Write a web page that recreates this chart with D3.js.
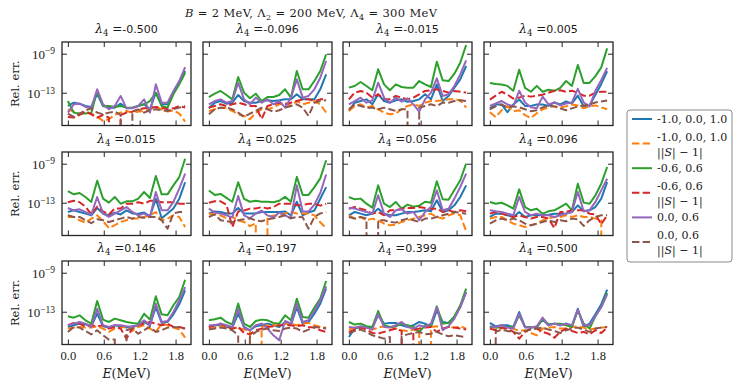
<!DOCTYPE html>
<html>
<head>
<meta charset="utf-8">
<script src="https://cdn.jsdelivr.net/npm/d3@7"></script>
<style>
body { margin: 0; background: #fff; }
</style>
</head>
<body>
<div id="chart"></div>
<script>
// energy grid (MeV)
var energies = [0.0, 0.098, 0.196, 0.294, 0.392, 0.49, 0.588, 0.686, 0.784, 0.882, 0.98,
                1.078, 1.176, 1.274, 1.372, 1.47, 1.568, 1.666, 1.764, 1.862, 1.96];
var lambda4 = ["-0.500", "-0.096", "-0.015", "0.005", "0.015", "0.025",
               "0.056", "0.096", "0.146", "0.197", "0.399", "0.500"];
var seriesNames = ["-1.0, 0.0, 1.0", "-1.0, 0.0, 1.0", "-0.6, 0.6", "-0.6, 0.6", "0.0, 0.6", "0.0, 0.6"];
var seriesIsS = [false, true, false, true, false, true];   // dashed ||S|-1| curves
var seriesColors = ["#1f77b4", "#ff7f0e", "#2ca02c", "#d62728", "#9467bd", "#8c564b"];
var xTicks = [0, 0.6, 1.2, 1.8];
var yTickExp = [-13, -9];

// log10(rel. err.); order: blue, orange, green, red, purple, brown
// null = exactly zero (drops off the log axis)
var errM0500 = [
 [-14.36,-14.02,-14.12,-14.36,-14.46,-13.10,-14.36,-14.53,-14.53,-14.12,-14.60,-14.53,-14.36,-14.19,-14.70,-13.00,-14.19,-14.19,-13.00,-11.97,-10.77],
 [-14.70,-14.94,-15.21,-14.94,-15.14,-15.48,-15.89,-15.72,-15.28,-15.04,-14.87,-15.04,-14.94,-14.87,-14.70,-14.46,-14.70,-14.94,-14.80,-15.14,-15.96],
 [-13.85,-15.04,-15.14,-15.14,-15.04,-12.82,-14.36,-14.36,-14.46,-14.36,-14.53,-14.53,-14.36,-14.19,-13.85,-13.00,-14.36,-14.53,-13.16,-12.14,-10.95],
 [-15.48,-15.55,-15.28,-14.94,-15.21,-15.55,-15.28,-15.55,null,-15.28,-15.04,-14.94,-14.70,-14.60,-14.53,-14.46,-14.53,-14.70,-14.60,-14.36,-14.53],
 [-15.04,-14.19,-14.12,-14.46,-14.53,-12.65,-14.19,-14.70,-14.36,-13.33,-14.60,-14.60,-14.36,-13.68,-15.04,-12.14,-14.02,-14.02,-12.82,-11.80,-10.37],
 [-15.14,-15.48,-15.14,-14.80,-14.60,-15.04,-15.21,-15.04,-14.94,-15.28,null,-14.94,-14.70,-15.04,-14.80,-14.70,-14.80,-14.87,-14.70,-14.53,-14.36]
];
var errM0096 = [
 [-14.60,-14.02,-13.85,-14.12,-14.02,-13.23,-13.85,-14.02,-14.02,-13.85,-13.78,-13.85,-13.78,-13.68,-13.68,-13.16,-13.68,-13.68,-13.68,-12.65,-11.12],
 [-14.87,-14.70,-14.53,-14.60,-14.87,-15.21,-15.38,-15.72,-15.04,-14.70,-14.70,-14.53,-14.19,-14.02,-14.36,-13.85,-14.19,-14.02,-13.85,-14.19,-15.04],
 [-13.44,-13.10,-12.82,-13.23,-13.68,-11.39,-12.99,-13.57,-13.10,-13.85,-13.44,-13.44,-13.23,-12.65,-13.50,-10.77,-12.65,-12.65,-11.80,-10.77,-9.07],
 [-14.53,-14.36,-14.19,-14.36,-14.19,-14.02,-14.19,-14.36,-14.36,-15.70,-14.36,-14.19,-14.02,-14.19,-14.02,-13.85,-13.68,-13.68,-13.85,-13.68,-13.68],
 [-14.19,-13.85,-13.68,-14.02,-13.85,-11.97,-13.68,-14.19,-13.50,-14.02,-13.68,-14.19,-13.85,-14.53,-13.50,-11.63,-13.50,-13.33,-12.65,-11.46,-9.75],
 [-15.21,-14.70,-14.53,-14.53,-14.70,-15.04,-15.48,-15.14,-14.87,-14.53,-14.70,-14.94,-14.80,-14.53,-14.36,-14.19,-14.53,-15.38,-14.02,-13.85,-13.78]
];
var errM0015 = [
 [-14.87,-14.02,-13.85,-13.68,-14.19,-13.16,-13.85,-14.02,-13.78,-13.68,-13.92,-13.85,-13.68,-13.16,-13.68,-12.14,-13.85,-13.33,-12.48,-11.63,-10.26],
 [-14.87,-14.36,-14.19,-14.53,-14.36,-14.70,-15.04,-15.21,-15.14,-14.70,-14.36,-14.19,-14.36,-14.02,-13.85,-13.85,-13.78,-13.68,-13.68,-13.78,-14.53],
 [-12.48,-12.31,-11.90,-12.31,-12.75,-10.60,-12.14,-12.75,-12.14,-12.41,-12.48,-12.48,-11.80,-12.14,-12.41,-9.82,-11.73,-11.80,-11.05,-9.92,-8.11],
 [-13.68,-12.99,-12.82,-12.99,-13.50,-13.16,-13.68,-13.68,-13.33,-13.50,-13.68,-13.50,-13.16,-12.82,-12.75,-12.65,-12.82,-12.99,-12.82,-12.89,-12.99],
 [-14.19,-13.85,-13.51,-14.02,-13.78,-11.97,-13.51,-14.02,-13.51,-13.92,-13.58,-14.19,-14.94,-13.68,-12.99,-11.53,-13.33,-13.16,-12.31,-11.12,-9.68],
 [-14.70,-14.19,-14.36,-14.53,-14.53,-14.70,-14.53,-14.70,-14.87,-14.70,-14.70,null,-14.53,-14.36,-14.19,-14.36,-14.02,-14.02,-13.85,-13.78,-13.85]
];
var errP0005 = [
 [-14.60,-14.20,-14.20,-15.00,-14.20,-13.70,-14.35,-14.35,-14.20,-14.20,-14.35,-14.00,-14.20,-13.90,-14.10,-13.30,-14.40,-14.30,-13.20,-12.10,-10.80],
 [-15.00,-15.50,-14.80,-14.40,-14.90,-14.80,-15.30,-15.60,-15.10,-14.70,-14.50,-14.40,-14.50,-14.40,-14.20,-14.30,-14.60,-14.40,-14.30,-14.50,-14.70],
 [-12.00,-12.10,-12.15,-12.30,-12.80,-10.65,-12.50,-12.90,-12.30,-12.90,-12.70,-12.80,-12.50,-11.80,-12.30,-10.15,-12.00,-12.00,-11.30,-10.40,-8.45],
 [-13.70,-13.30,-12.90,-13.20,-13.60,-13.50,-13.30,-13.40,-13.30,-13.20,-13.00,-12.80,-12.75,-12.90,-12.80,-13.00,-13.30,-13.30,-13.00,-12.90,-12.90],
 [-14.35,-14.10,-13.85,-14.20,-14.40,-12.80,-14.00,-14.50,-14.60,-13.40,-14.20,-14.00,-14.30,-14.10,-14.00,-12.60,-14.00,-14.40,-12.80,-11.70,-10.45],
 [-14.70,-14.40,-14.20,-14.50,-14.40,-14.50,-14.70,-14.90,-14.80,-14.50,-14.30,-14.40,-14.60,-14.80,-14.60,-14.40,-14.30,-14.20,-14.00,-13.90,-13.80]
];
var errP0015 = [
 [-13.95,-13.78,-13.95,-14.12,-14.29,-13.54,-14.12,-14.29,-14.02,-14.20,-13.78,-14.10,-14.12,-14.00,-14.40,-12.60,-14.60,-14.10,-13.60,-12.60,-10.90],
 [-14.46,-14.46,-14.80,-15.04,-14.63,-14.29,-14.90,-15.60,-15.30,-14.97,-14.80,-14.63,-14.63,-14.46,-14.30,-13.95,-14.80,-14.63,-14.29,-14.46,-15.50],
 [-11.80,-12.14,-12.00,-12.41,-12.92,-10.74,-12.58,-12.99,-12.41,-13.10,-12.86,-12.86,-12.58,-11.90,-12.51,-10.26,-12.14,-12.14,-11.22,-10.37,-8.49],
 [-12.95,-12.80,-12.95,-13.40,-14.20,-13.40,-13.90,-14.20,-13.60,-13.60,-13.10,-13.10,-12.95,-13.10,-12.80,-12.80,-12.95,-12.95,-12.95,-13.10,-13.10],
 [-13.54,-13.78,-13.68,-13.95,-14.22,-12.41,-14.12,-14.46,-14.12,-13.78,-13.44,-13.95,-14.29,-14.12,-14.46,-11.90,-13.78,-13.78,-12.92,-11.56,-10.02],
 [-14.29,-14.46,-14.46,-14.80,-15.10,-14.70,-14.80,-14.97,-14.80,-14.63,-14.46,-14.63,-14.46,-14.55,-14.46,-14.46,-14.80,-15.66,-14.10,-13.95,-13.95]
];
var errP0025 = [
 [-14.10,-13.90,-13.95,-14.10,-14.10,-13.55,-14.10,-14.10,-14.10,-13.95,-13.95,-13.95,-13.95,-13.90,-14.30,-12.90,-14.30,-14.00,-13.80,-12.60,-11.40],
 [-14.10,-14.20,-14.30,-14.60,-14.45,-14.80,-14.97,-15.40,-15.10,null,-14.50,-14.30,-14.30,-14.10,-13.95,-14.10,-14.10,-14.10,-14.30,-15.00,-15.60],
 [-11.75,-12.20,-12.10,-12.50,-12.90,-10.90,-12.60,-12.90,-12.80,-12.90,-12.90,-12.95,-12.80,-12.40,-12.90,-10.35,-12.20,-12.20,-11.40,-10.50,-8.65],
 [-13.00,-12.85,-12.85,-13.20,-15.50,-13.90,-13.80,-13.60,-13.60,-13.45,-13.60,-13.45,-13.10,-13.10,-13.10,-13.25,-13.25,-13.10,-13.10,-13.30,-13.10],
 [-13.60,-14.00,-14.10,-14.30,-14.50,-12.30,-14.30,-14.60,-14.10,-13.80,-14.30,-14.50,-14.00,-14.30,-14.60,-11.20,-13.90,-13.90,-13.20,-12.00,-10.10],
 [-14.46,-14.20,-14.80,-14.90,-15.00,-14.80,-14.70,-14.60,-14.80,-14.90,-14.70,-14.60,-14.46,-14.30,-14.60,-14.46,-14.50,-15.66,-14.46,-14.10,-13.95]
];
var errP0056 = [
 [-14.29,-13.95,-14.12,-14.29,-14.12,-13.61,-14.12,-14.29,-14.29,-14.12,-13.95,-13.95,-13.88,-13.78,-13.88,-12.75,-13.95,-13.78,-13.27,-12.41,-11.22],
 [-14.29,-14.63,-14.46,-14.80,-14.63,-14.80,-15.14,-15.31,-15.24,-14.97,-14.80,-14.63,-14.46,-14.29,-14.12,-14.46,-14.63,-14.29,-14.12,-14.29,-15.90],
 [-12.41,-12.65,-12.58,-13.10,-13.50,-11.22,-13.10,-13.44,-12.92,-13.60,-13.20,-13.40,-13.30,-12.90,-13.00,-10.80,-12.65,-12.70,-11.70,-10.70,-9.00],
 [-13.61,-13.44,-13.61,-13.78,-14.12,-13.95,-14.29,-13.78,-13.78,-13.61,-13.54,-13.54,-13.44,-13.54,-13.61,-13.61,-13.95,-13.78,-13.95,-13.78,-13.88],
 [-13.54,-13.60,-13.78,-13.95,-14.12,-12.24,-14.12,-14.46,-13.78,-13.68,-14.12,-13.95,-14.80,-13.95,-13.44,-11.73,-13.78,-13.61,-12.58,-11.39,-10.02],
 [-14.46,-14.63,-14.46,-14.63,null,-14.80,-14.80,-14.97,-15.04,-14.80,-14.63,-14.80,-14.97,-14.63,-14.63,-14.46,-14.29,-14.12,-13.95,-14.02,-14.12]
];
var errP0096 = [
 [-14.46,-14.12,-14.12,-14.29,-14.46,-13.95,-14.46,-14.29,-14.29,-14.29,-14.22,-14.12,-14.12,-14.12,-13.95,-13.27,-13.88,-13.78,-13.44,-12.58,-10.88],
 [-14.63,-14.46,-14.46,-14.80,-15.14,-15.31,-15.48,-15.31,-15.14,-14.80,-14.63,-14.46,-14.46,-14.29,-14.46,-14.29,-14.46,-14.46,-14.63,-14.80,null],
 [-12.92,-13.10,-13.00,-13.27,-13.61,-11.63,-13.44,-13.78,-13.61,-14.12,-13.88,-13.78,-13.44,-13.10,-13.78,-11.05,-12.99,-13.10,-12.24,-11.05,-9.34],
 [-14.12,-13.95,-14.12,-14.29,-14.46,-14.29,-14.46,-14.63,-14.46,-14.46,-14.63,-15.60,-13.95,-13.95,-13.78,-13.78,-13.78,-14.12,-14.20,-15.20,-14.29],
 [-13.78,-13.88,-13.95,-14.12,-14.29,-12.41,-13.95,-14.29,-14.12,-14.29,-14.29,-14.46,-14.29,-14.12,-13.95,-11.90,-13.88,-13.78,-12.92,-11.73,-10.54],
 [-15.14,-14.80,-14.63,-14.80,-14.63,-14.80,-15.14,-15.31,-15.14,-14.97,-14.80,-14.97,-14.80,-14.90,-14.63,-14.70,-15.38,-14.80,-14.46,-14.29,-14.29]
];
var errP0146 = [
 [-14.56,-14.39,-14.22,-14.29,-14.49,-13.20,-14.49,-14.63,-14.39,-14.49,-14.63,-14.49,-14.39,-14.05,-14.39,-12.52,-14.15,-14.05,-13.27,-12.24,-10.81],
 [-14.73,-14.63,-14.56,-14.63,-14.63,-14.49,-14.73,-15.07,-14.73,-14.63,-14.56,-14.97,-14.56,-14.39,-14.73,-15.07,-14.22,-14.39,-14.63,-14.83,-15.66],
 [-13.47,-13.61,-13.37,-13.88,-14.22,-11.90,-13.81,-14.05,-13.71,-13.88,-14.05,-14.15,-14.22,-13.20,-13.81,-11.42,-13.27,-13.37,-12.34,-11.49,-9.72],
 [-14.39,-14.15,-14.22,-14.56,-14.39,-14.49,-14.39,-14.73,-14.56,-14.73,-15.76,-14.73,-14.39,-14.22,-14.05,-14.22,-14.39,-14.22,-14.56,-14.56,-14.73],
 [-14.39,-14.22,-14.05,-14.22,-14.56,-12.69,-14.39,-14.56,-14.39,-14.39,-14.49,-14.56,-14.39,-13.88,-14.39,-12.17,-14.05,-13.95,-13.03,-11.83,-10.47],
 [-15.07,-14.56,-14.63,-14.97,-15.32,-14.90,-15.42,-15.86,-15.86,null,-14.90,-14.73,-15.25,-14.90,-14.56,-15.07,-14.90,-14.63,-14.56,-14.63,-14.73]
];
var errP0197 = [
 [-14.56,-14.39,-14.39,-14.56,-14.63,-13.20,-14.56,-14.90,-14.49,-14.39,-14.22,-14.39,-14.56,-14.05,-14.39,-12.52,-14.22,-14.05,-13.20,-12.17,-10.64],
 [-14.73,-14.63,-14.49,-14.56,-14.73,-14.63,-14.83,-14.90,null,-14.56,-14.39,-14.39,-14.39,-14.22,-14.22,-14.39,-14.22,-14.15,-14.39,-14.56,-14.63],
 [-13.88,-13.78,-13.61,-14.05,-14.29,-12.17,-14.22,-14.56,-13.95,-13.81,-13.88,-14.15,-14.22,-13.37,-13.88,-11.66,-13.54,-13.61,-12.58,-11.66,-9.85],
 [-14.56,-14.39,-14.22,-14.56,-14.73,-14.56,-15.18,-15.32,-14.90,-14.73,-14.56,-14.49,-14.39,-14.39,-14.39,-14.49,-14.39,-14.56,-14.63,-14.90,-15.07],
 [-14.39,-14.39,-14.22,-14.39,-14.56,-12.69,-14.66,-14.90,-14.39,-14.22,-14.73,-15.42,-15.93,-13.95,-14.22,-12.17,-14.05,-13.88,-12.93,-11.83,-10.40],
 [-14.83,-14.73,-14.63,-14.73,-14.90,-15.42,null,-15.59,-15.07,-14.83,-14.73,-14.90,-14.97,-14.73,-14.63,-14.73,-15.07,-14.83,-14.56,-14.63,-14.73]
];
var errP0399 = [
 [-15.59,-14.73,-14.56,-14.63,-14.56,-13.37,-14.22,-14.15,-14.15,-14.39,-14.56,-14.39,-14.05,-14.22,-14.56,-12.86,-14.05,-14.15,-13.54,-12.52,-10.98],
 [-14.83,-14.63,-14.56,-14.66,-14.83,-14.63,-14.49,-14.56,-14.73,-14.90,-14.97,-14.83,-14.73,null,-14.56,-14.49,-14.73,-14.56,-14.63,-14.49,-14.73],
 [-14.05,-14.32,-14.22,-14.49,-14.56,-12.93,-14.39,-14.56,-14.49,-14.22,-14.39,-14.56,-15.07,-14.39,-14.49,-12.45,-14.22,-14.15,-13.47,-12.34,-10.64],
 [-15.07,-14.83,-14.63,-14.83,-15.18,-15.25,-15.07,-14.90,-14.73,-14.97,null,-14.90,-14.73,-14.63,-14.56,-15.07,-14.73,-14.56,-14.63,-14.73,-14.83],
 [-14.56,-14.63,-14.49,-14.63,-14.83,-13.20,-14.56,-14.63,-14.39,-14.05,-14.56,-14.73,-14.39,-14.56,-14.22,-12.52,-14.90,-14.49,-13.71,-12.52,-10.98],
 [-15.25,-14.97,-14.83,-15.07,-15.42,-15.59,-15.76,-15.59,null,-15.52,-15.32,-15.18,-15.07,-15.32,-15.25,-15.07,-15.32,-15.52,-15.42,-15.52,-15.59]
];
var errP0500 = [
 [-14.15,-14.49,-14.39,-14.39,-14.56,-13.03,-14.56,-14.63,-14.56,-13.81,-14.39,-14.22,-14.39,-14.22,-14.49,-12.69,-14.56,-14.22,-13.27,-12.24,-10.74],
 [-14.56,-14.63,-14.73,-14.63,-14.73,-14.97,-14.90,-15.18,-15.42,-14.73,-14.63,-14.56,-14.73,-14.73,-14.56,-14.49,-14.63,-14.83,-14.73,-14.63,-14.56],
 [-14.56,-14.63,-14.63,-14.56,-14.56,-13.37,-14.56,-14.56,-14.63,-13.71,-14.29,-14.22,-14.22,-14.39,-14.56,-12.86,-14.22,-14.73,-13.47,-12.52,-11.08],
 [-14.73,-14.90,-14.63,-14.73,-15.07,-15.76,-15.07,-14.73,-14.73,-15.07,-15.25,-15.66,-15.07,-14.73,-14.97,-15.18,-15.07,-15.32,-14.90,-15.18,-14.63],
 [-14.49,-14.56,-14.39,-14.63,-14.73,-13.20,-14.63,-14.63,-14.49,-13.61,-14.39,-14.22,-14.39,-14.22,-14.39,-12.79,-14.39,-14.39,-13.47,-12.52,-11.22],
 [null,-15.07,-14.83,-14.97,-15.07,-15.25,-14.97,-14.83,-14.73,-14.63,-14.83,-14.97,-15.18,-14.90,-14.73,-14.63,-14.83,-15.07,-14.73,-14.63,-14.56]
];
var panels = [errM0500, errM0096, errM0015, errP0005, errP0015, errP0025,
              errP0056, errP0096, errP0146, errP0197, errP0399, errP0500];

// layout
var W = 748, H = 389;
var colX = [62, 203, 343, 484], rowY = [42, 152, 261];
var pw = 129, ph = 83.5;
var frameColor = "#262626", textColor = "#1a1a1a";
var serif = "'DejaVu Serif', serif", times = "'Liberation Serif', serif", sans = "'DejaVu Sans', sans-serif";

var svg = d3.select("#chart").append("svg").attr("width", W).attr("height", H);

function addText(parent, fam, size) {
    return parent.append("text").attr("fill", textColor)
        .style("font-family", fam).style("font-size", size + "px");
}

var x = d3.scaleLinear().domain([-0.098, 2.058]).range([0, pw]);
var y = d3.scaleLog().domain([Math.pow(10, -16.36), Math.pow(10, -7.8)]).range([ph, 0]);

function toVal(v) { return v === null ? 1e-300 : Math.pow(10, v); }

var line = d3.line()
    .x(function(d, i) { return x(energies[i]); })
    .y(function(d) { return y(toVal(d)); });

// figure title
var title = addText(svg, serif, 11.5).attr("x", 185).attr("y", 17)
    .attr("textLength", 252).attr("lengthAdjust", "spacing");
title.append("tspan").style("font-style", "italic").text("B");
title.append("tspan").text(" = 2 MeV, Λ");
title.append("tspan").attr("dy", 3).style("font-size", "8px").text("2");
title.append("tspan").attr("dy", -3).text(" = 200 MeV, Λ");
title.append("tspan").attr("dy", 3).style("font-size", "8px").text("4");
title.append("tspan").attr("dy", -3).text(" = 300 MeV");

panels.forEach(function(series, p) {
    var col = p % 4, row = Math.floor(p / 4);
    var g = svg.append("g").attr("transform", "translate(" + colX[col] + "," + rowY[row] + ")");

    g.append("clipPath").attr("id", "clip" + p)
        .append("rect").attr("width", pw).attr("height", ph);

    var lines = g.append("g").attr("clip-path", "url(#clip" + p + ")");
    series.forEach(function(vals, s) {
        lines.append("path")
            .attr("d", line(vals))
            .attr("fill", "none")
            .attr("stroke", seriesColors[s])
            .attr("stroke-width", 2)
            .attr("stroke-linejoin", "round")
            .attr("stroke-dasharray", seriesIsS[s] ? "7.4,3.2" : null);
    });

    // inward ticks on all four sides
    var yVals = yTickExp.map(function(e) { return Math.pow(10, e); });
    var axB = g.append("g").attr("transform", "translate(0," + ph + ")")
        .call(d3.axisBottom(x).tickValues(xTicks).tickSize(-5).tickPadding(7)
            .tickFormat(row === 2 ? d3.format(".1f") : ""));
    g.append("g").call(d3.axisTop(x).tickValues(xTicks).tickSize(-5).tickFormat(""));
    var axL = g.append("g")
        .call(d3.axisLeft(y).tickValues(yVals).tickSize(-5).tickPadding(7)
            .tickFormat(col === 0 ? function() { return ""; } : ""));
    g.append("g").attr("transform", "translate(" + pw + ",0)")
        .call(d3.axisRight(y).tickValues(yVals).tickSize(-5).tickFormat(""));

    g.selectAll(".domain").remove();
    g.selectAll(".tick line").attr("stroke", frameColor).attr("stroke-width", 1);
    g.selectAll(".tick text").attr("fill", textColor)
        .style("font-family", times).style("font-size", "12.5px");
    axB.selectAll(".tick text").attr("dy", "0.71em");

    if (col === 0) {
        axL.selectAll(".tick text").each(function(d) {
            var t = d3.select(this).attr("dy", "0.35em").style("font-size", "13px");
            t.append("tspan").text("10");
            t.append("tspan").attr("dy", "-0.45em").style("font-size", "9.5px")
                .text("\u2212" + Math.abs(Math.round(Math.log10(d))));
        });
        addText(g, serif, 11.5)
            .attr("transform", "translate(-43," + (ph / 2) + ") rotate(-90)")
            .attr("text-anchor", "middle")
            .text("Rel. err.");
    }
    if (row === 2) {
        var xl = addText(g, serif, 12.5).attr("x", pw / 2).attr("y", ph + 33)
            .attr("text-anchor", "middle");
        xl.append("tspan").style("font-style", "italic").text("E");
        xl.append("tspan").text("(MeV)");
    }

    // frame
    g.append("rect").attr("width", pw).attr("height", ph)
        .attr("fill", "none").attr("stroke", frameColor).attr("stroke-width", 1.3);

    // panel title
    var pt = addText(g, serif, 12).attr("x", pw / 2).attr("y", -9)
        .attr("text-anchor", "middle");
    pt.append("tspan").style("font-style", "italic").text("λ");
    pt.append("tspan").attr("dy", 3).style("font-size", "8.5px").text("4");
    pt.append("tspan").attr("dy", -3).text(" =");
    pt.append("tspan").style("font-family", sans).style("font-size", "11px")
        .text(lambda4[p]);
});

// legend
var leg = svg.append("g").attr("transform", "translate(627,110)");
leg.append("rect").attr("width", 105).attr("height", 152).attr("rx", 3)
    .attr("fill", "#fff").attr("stroke", "#8a8a8a").attr("stroke-width", 1);

seriesNames.forEach(function(name, s) {
    var cy = 9 + 24.6 * s;
    var item = leg.append("g").attr("transform", "translate(0," + cy + ")");
    item.append("line").attr("x1", 5).attr("x2", 25).attr("y1", 0).attr("y2", 0)
        .attr("stroke", seriesColors[s]).attr("stroke-width", 2)
        .attr("stroke-dasharray", seriesIsS[s] ? "7.4,3.2" : null);
    if (!seriesIsS[s]) {
        addText(item, serif, 11).attr("x", 30).attr("y", 4).text(name);
    } else {
        addText(item, serif, 11).attr("x", 30).attr("y", -3).text(name);
        var t = addText(item, serif, 11).attr("x", 30).attr("y", 12);
        t.append("tspan").text("||");
        t.append("tspan").style("font-style", "italic").text("S");
        t.append("tspan").text("| \u2212 1|");
    }
});
</script>
</body>
</html>
